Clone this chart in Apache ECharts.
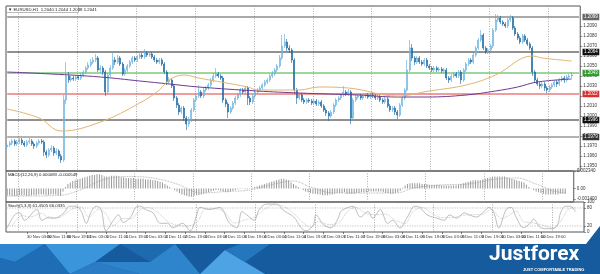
<!DOCTYPE html>
<html><head><meta charset="utf-8">
<script src="https://cdn.jsdelivr.net/npm/echarts@6/dist/echarts.min.js"></script>
<style>html,body{margin:0;padding:0;background:#fff}#c{width:600px;height:274px}</style>
</head><body><div id="c"></div>
<script>
// ---------- DATA (EURUSD, H1) ----------
const N_SLOTS = 234;
const openP = [1.1969,1.1971,1.1973,1.1975,1.1972,1.1974,1.1976,1.1973,1.1971,1.1974,
1.1975,1.1972,1.1970,1.1973,1.1975,1.1974,1.1964,1.1961,1.1966,1.1968,
1.1963,1.1965,1.1960,1.1956,1.2016,1.2040,1.2036,1.2038,1.2037,1.2039,
1.2038,1.2041,1.2044,1.2048,1.2051,1.2054,1.2056,1.2058,1.2046,1.2048,
1.2044,1.2024,1.2041,1.2048,1.2056,1.2054,1.2058,1.2052,1.2042,1.2046,
1.2050,1.2054,1.2058,1.2056,1.2059,1.2061,1.2059,1.2063,1.2061,1.2062,
1.2059,1.2056,1.2054,1.2056,1.2052,1.2044,1.2034,1.2036,1.2030,1.2018,
1.2011,1.2004,1.2008,1.1998,1.1992,1.1996,1.2006,1.2016,1.2020,1.2024,
1.2020,1.2026,1.2028,1.2031,1.2036,1.2040,1.2042,1.2040,1.2038,1.2016,
1.2012,1.2004,1.2008,1.2013,1.2018,1.2021,1.2026,1.2024,1.2028,1.2018,
1.2014,1.2020,1.2024,1.2026,1.2028,1.2031,1.2034,1.2036,1.2040,1.2042,
1.2046,1.2050,1.2058,1.2070,1.2074,1.2068,1.2066,1.2056,1.2026,1.2018,
1.2021,1.2016,1.2014,1.2016,1.2015,1.2013,1.2015,1.2012,1.2014,1.2010,
1.2006,1.2003,1.2000,1.2004,1.2011,1.2016,1.2018,1.2021,1.2024,1.2022,
1.2024,1.1998,1.2016,1.2019,1.2020,1.2018,1.2020,1.2021,1.2019,1.2021,
1.2020,1.2018,1.2019,1.2016,1.2014,1.2017,1.2010,1.2006,1.2008,1.2004,
1.2001,1.2011,1.2018,1.2026,1.2046,1.2068,1.2058,1.2054,1.2058,1.2054,
1.2052,1.2056,1.2050,1.2048,1.2046,1.2048,1.2046,1.2047,1.2045,1.2046,
1.2038,1.2036,1.2040,1.2042,1.2040,1.2044,1.2036,1.2046,1.2052,1.2056,
1.2054,1.2061,1.2068,1.2076,1.2081,1.2068,1.2064,1.2066,1.2070,1.2086,
1.2096,1.2098,1.2094,1.2092,1.2090,1.2096,1.2098,1.2088,1.2082,1.2078,
1.2074,1.2080,1.2076,1.2072,1.2068,1.2044,1.2036,1.2032,1.2030,1.2032,
1.2028,1.2026,1.2029,1.2031,1.2034,1.2032,1.2036,1.2038,1.2036,1.2039,1.2040];
const closeP = [1.1971,1.1973,1.1975,1.1972,1.1974,1.1976,1.1973,1.1971,1.1974,1.1975,
1.1972,1.1970,1.1973,1.1975,1.1974,1.1964,1.1961,1.1966,1.1968,1.1963,
1.1965,1.1960,1.1956,1.2016,1.2040,1.2036,1.2038,1.2037,1.2039,1.2038,
1.2041,1.2044,1.2048,1.2051,1.2054,1.2056,1.2058,1.2046,1.2048,1.2044,
1.2024,1.2041,1.2048,1.2056,1.2054,1.2058,1.2052,1.2042,1.2046,1.2050,
1.2054,1.2058,1.2056,1.2059,1.2061,1.2059,1.2063,1.2061,1.2062,1.2059,
1.2056,1.2054,1.2056,1.2052,1.2044,1.2034,1.2036,1.2030,1.2018,1.2011,
1.2004,1.2008,1.1998,1.1992,1.1996,1.2006,1.2016,1.2020,1.2024,1.2020,
1.2026,1.2028,1.2031,1.2036,1.2040,1.2042,1.2040,1.2038,1.2016,1.2012,
1.2004,1.2008,1.2013,1.2018,1.2021,1.2026,1.2024,1.2028,1.2018,1.2014,
1.2020,1.2024,1.2026,1.2028,1.2031,1.2034,1.2036,1.2040,1.2042,1.2046,
1.2050,1.2058,1.2070,1.2074,1.2068,1.2066,1.2056,1.2026,1.2018,1.2021,
1.2016,1.2014,1.2016,1.2015,1.2013,1.2015,1.2012,1.2014,1.2010,1.2006,
1.2003,1.2000,1.2004,1.2011,1.2016,1.2018,1.2021,1.2024,1.2022,1.2024,
1.1998,1.2016,1.2019,1.2020,1.2018,1.2020,1.2021,1.2019,1.2021,1.2020,
1.2018,1.2019,1.2016,1.2014,1.2017,1.2010,1.2006,1.2008,1.2004,1.2001,
1.2011,1.2018,1.2026,1.2046,1.2068,1.2058,1.2054,1.2058,1.2054,1.2052,
1.2056,1.2050,1.2048,1.2046,1.2048,1.2046,1.2047,1.2045,1.2046,1.2038,
1.2036,1.2040,1.2042,1.2040,1.2044,1.2036,1.2046,1.2052,1.2056,1.2054,
1.2061,1.2068,1.2076,1.2081,1.2068,1.2064,1.2066,1.2070,1.2086,1.2096,
1.2098,1.2094,1.2092,1.2090,1.2096,1.2098,1.2088,1.2082,1.2078,1.2074,
1.2080,1.2076,1.2072,1.2068,1.2044,1.2036,1.2032,1.2030,1.2032,1.2028,
1.2026,1.2029,1.2031,1.2034,1.2032,1.2036,1.2038,1.2036,1.2039,1.2040,1.2041];
const lowP = [1.1967,1.1969,1.1971,1.1970,1.1970,1.1972,1.1971,1.1969,1.1969,1.1972,
1.1970,1.1967,1.1968,1.1971,1.1972,1.1960,1.1958,1.1959,1.1964,1.1960,
1.1961,1.1957,1.1953,1.1954,1.2012,1.2033,1.2034,1.2035,1.2035,1.2036,
1.2036,1.2039,1.2042,1.2046,1.2049,1.2052,1.2054,1.2044,1.2043,1.2041,
1.2020,1.2022,1.2039,1.2046,1.2051,1.2052,1.2050,1.2040,1.2040,1.2044,
1.2048,1.2052,1.2054,1.2054,1.2057,1.2057,1.2057,1.2059,1.2059,1.2057,
1.2054,1.2052,1.2052,1.2050,1.2042,1.2031,1.2032,1.2028,1.2015,1.2008,
1.2001,1.2002,1.1995,1.1986,1.1989,1.1994,1.2004,1.2014,1.2018,1.2018,
1.2018,1.2024,1.2026,1.2029,1.2034,1.2038,1.2038,1.2036,1.2013,1.2009,
1.1998,1.2002,1.2006,1.2011,1.2016,1.2019,1.2022,1.2022,1.2011,1.2011,
1.2012,1.2018,1.2022,1.2024,1.2026,1.2029,1.2032,1.2034,1.2038,1.2040,
1.2044,1.2048,1.2056,1.2068,1.2065,1.2063,1.2053,1.2022,1.2012,1.2016,
1.2014,1.2012,1.2012,1.2013,1.2011,1.2011,1.2010,1.2010,1.2008,1.2004,
1.2000,1.1995,1.1998,1.2002,1.2009,1.2014,1.2016,1.2019,1.2020,1.2020,
1.1992,1.1996,1.2014,1.2017,1.2016,1.2016,1.2018,1.2017,1.2017,1.2018,
1.2016,1.2016,1.2014,1.2012,1.2012,1.2008,1.2004,1.2004,1.2001,1.1997,
1.1999,1.2009,1.2016,1.2024,1.2044,1.2055,1.2051,1.2052,1.2052,1.2050,
1.2050,1.2048,1.2046,1.2044,1.2044,1.2044,1.2044,1.2043,1.2043,1.2036,
1.2033,1.2034,1.2038,1.2038,1.2038,1.2032,1.2034,1.2044,1.2050,1.2052,
1.2052,1.2059,1.2066,1.2074,1.2066,1.2062,1.2062,1.2064,1.2068,1.2084,
1.2094,1.2092,1.2090,1.2088,1.2088,1.2094,1.2086,1.2080,1.2076,1.2072,
1.2072,1.2074,1.2070,1.2066,1.2040,1.2033,1.2030,1.2027,1.2028,1.2025,
1.2023,1.2024,1.2027,1.2029,1.2029,1.2030,1.2034,1.2033,1.2034,1.2037,1.2038];
const highP = [1.1973,1.1975,1.1977,1.1977,1.1976,1.1978,1.1978,1.1975,1.1976,1.1978,
1.1977,1.1974,1.1975,1.1977,1.1977,1.1976,1.1966,1.1968,1.1971,1.1970,
1.1968,1.1967,1.1962,1.2021,1.2054,1.2044,1.2041,1.2040,1.2041,1.2041,
1.2043,1.2046,1.2050,1.2054,1.2057,1.2059,1.2062,1.2060,1.2051,1.2050,
1.2046,1.2043,1.2051,1.2064,1.2059,1.2061,1.2060,1.2054,1.2048,1.2052,
1.2056,1.2060,1.2060,1.2061,1.2063,1.2063,1.2067,1.2065,1.2064,1.2064,
1.2061,1.2058,1.2058,1.2058,1.2054,1.2046,1.2039,1.2038,1.2032,1.2020,
1.2013,1.2010,1.2010,1.2000,1.1999,1.2008,1.2018,1.2022,1.2031,1.2026,
1.2028,1.2030,1.2033,1.2038,1.2043,1.2048,1.2044,1.2042,1.2040,1.2018,
1.2014,1.2010,1.2015,1.2020,1.2023,1.2028,1.2028,1.2030,1.2030,1.2020,
1.2022,1.2026,1.2028,1.2030,1.2033,1.2036,1.2038,1.2042,1.2045,1.2048,
1.2052,1.2061,1.2081,1.2082,1.2077,1.2071,1.2068,1.2058,1.2028,1.2023,
1.2023,1.2018,1.2018,1.2018,1.2017,1.2017,1.2017,1.2016,1.2016,1.2012,
1.2008,1.2005,1.2006,1.2013,1.2018,1.2020,1.2023,1.2030,1.2026,1.2027,
1.2026,1.2018,1.2021,1.2022,1.2022,1.2022,1.2023,1.2023,1.2023,1.2023,
1.2022,1.2021,1.2021,1.2018,1.2019,1.2019,1.2012,1.2010,1.2010,1.2006,
1.2013,1.2020,1.2028,1.2056,1.2076,1.2072,1.2060,1.2060,1.2060,1.2056,
1.2058,1.2058,1.2052,1.2050,1.2050,1.2050,1.2049,1.2049,1.2048,1.2048,
1.2040,1.2042,1.2044,1.2044,1.2046,1.2046,1.2048,1.2054,1.2058,1.2058,
1.2063,1.2070,1.2078,1.2086,1.2083,1.2070,1.2068,1.2072,1.2088,1.2102,
1.2101,1.2100,1.2096,1.2094,1.2098,1.2101,1.2100,1.2090,1.2084,1.2080,
1.2082,1.2082,1.2078,1.2074,1.2070,1.2046,1.2038,1.2034,1.2034,1.2034,
1.2030,1.2031,1.2033,1.2036,1.2036,1.2038,1.2040,1.2040,1.2041,1.2042,1.2044];

// moving averages (sparse readings: bar index -> value)
const maSlowIdx = [0,18,38,54,66,78,102,119,143,159,171,187,199,208,216,230];
const maSlowVal = [1.2044,1.2042,1.2039,1.2035,1.2032,1.2029,1.2025,1.2023,1.2021,1.2019,1.2019,1.2021,1.2025,1.2029,1.2034,1.2037];
const maFastIdx = [0,13,22,38,54,62,66,72,78,98,102,119,127,139,159,172,187,199,214,218,230];
const maFastVal = [1.2007,1.1998,1.1985,1.1994,1.2013,1.2026,1.2036,1.2041,1.2038,1.2029,1.2026,1.2026,1.2029,1.2028,1.2020,1.2025,1.2031,1.2041,1.2060,1.2058,1.2055];

// horizontal levels
const levelPrices = [1.2099, 1.2064, 1.2043, 1.2022, 1.1996, 1.1979];
const priceTicks = [1.2090,1.2080,1.2070,1.2060,1.2050,1.2040,1.2030,1.2020,1.2010,1.2000,1.1990,1.1980,1.1970,1.1960,1.1950];

// MACD(12,26,9)
const macdHist = [-0.0009,-0.0009,-0.0010,-0.0010,-0.0010,-0.0009,-0.0009,-0.0009,-0.0010,-0.0010,
-0.0009,-0.0009,-0.0009,-0.0008,-0.0008,-0.0008,-0.0009,-0.0009,-0.0008,-0.0008,
-0.0008,-0.0009,-0.0010,-0.0004,0.0002,
0.0006,0.0008,0.0010,0.0011,0.0012,0.0013,0.0014,0.0015,0.0016,0.0017,0.0018,0.0018,0.0019,
0.0019,0.0018,0.0016,0.0016,0.0016,0.0017,0.0017,0.0017,0.0016,0.0015,0.0015,0.0014,0.0014,0.0014,0.0014,
0.0013,0.0013,0.0013,0.0013,0.0012,0.0012,0.0012,0.0011,0.0011,
0.0010,0.0009,0.0008,0.0006,0.0004,0.0002,0.00005,-0.0002,-0.0004,-0.0006,-0.0008,-0.0009,-0.0010,-0.0011,-0.0011,-0.0010,-0.0009,
-0.0009,-0.0008,-0.0007,-0.0006,-0.0005,-0.0004,-0.0003,-0.0002,-0.0002,-0.0003,-0.0004,-0.0005,-0.0005,-0.0004,-0.0003,-0.0002,-0.0001,-0.00005,0.00005,-0.0001,-0.0001,0.00005,
0.0001,0.0002,0.0003,0.0004,0.0005,0.0006,0.0007,0.0008,0.0009,0.0010,0.0011,0.0012,0.0013,0.0013,0.0012,0.0011,0.0008,0.0006,0.0004,0.0002,0.00005,
-0.0002,-0.0004,-0.0005,-0.0006,-0.0007,-0.0007,-0.0008,-0.0008,-0.0009,-0.0009,-0.0009,-0.0008,-0.0008,-0.0007,-0.0006,-0.0006,-0.0006,-0.0005,-0.0007,-0.0007,
-0.0007,-0.0007,-0.0006,-0.0006,-0.0005,-0.0005,-0.0005,-0.0004,-0.0004,-0.0004,-0.0004,-0.0004,-0.0004,-0.0005,-0.0006,-0.0006,-0.0007,-0.0007,-0.0006,-0.0005,
-0.0003,0.0001,0.0004,0.0006,0.0007,0.0007,0.0007,0.0007,0.0007,0.0006,0.0006,0.0006,0.0005,0.0005,0.0005,
0.0005,0.0005,0.0004,0.0004,0.0004,0.0004,0.0004,0.0004,0.0004,0.0005,0.0006,0.0007,0.0008,0.0009,0.0010,
0.0011,0.0011,0.0011,0.0011,0.0012,0.0013,0.0014,0.0015,0.0016,0.0016,0.0016,0.0016,0.0016,0.0016,0.0015,
0.0014,0.0013,0.0012,0.0011,0.0010,0.0009,0.0008,0.0005,0.0002,0.00005,-0.0002,-0.0004,-0.0005,-0.0006,-0.0007,
-0.0008,-0.0008,-0.0008,-0.0008,-0.0008,-0.0008,-0.0007,-0.0007,-0.0007];
const macdSigIdx = [0,10,22,30,40,50,60,70,80,90,100,110,118,125,135,150,160,168,180,190,200,210,218,225,230];
const macdSigVal = [-0.0010,-0.0010,-0.0009,-0.0002,0.0012,0.0016,0.0014,0.0006,-0.0006,-0.0004,-0.0002,0.0006,0.0010,0.0002,-0.0006,-0.0006,-0.0006,0.0001,0.0005,0.0006,0.0012,0.0014,0.0006,-0.0003,-0.0006];
const macdTicks = [0.00234, 0, -0.0014];

// Stochastic(5,3,3)
const stochMainIdx = [0,3,5,7,12,14,17,19,23,25,28,30,32,34,36,38,40,43,45,47,50,52,54,56,59,62,65,67,71,74,77,78,82,86,90,93,95,97,100,102,105,109,112,116,119,121,124,125,128,131,134,135,138,140,143,146,148,151,154,156,159,162,165,167,170,174,177,179,182,185,187,190,193,195,197,199,202,204,206,209,212,213,216,219,221,223,224,226,228,230];
const stochMainVal = [14,57,64,39,75,39,50,46,64,86,86,68,29,68,86,75,4,39,57,32,50,82,86,75,64,29,29,14,29,4,64,82,75,82,29,14,68,57,39,75,93,93,71,50,14,4,25,57,25,14,46,68,82,86,50,68,46,75,29,39,14,50,86,82,57,46,39,57,46,64,57,50,68,82,64,14,75,82,50,14,32,43,14,11,11,29,64,86,86,68];
const stochSigIdx = [2,6,9,14,17,21,26,30,33,37,40,43,47,50,54,57,61,65,69,73,77,80,84,88,92,96,100,104,108,112,116,120,123,126,130,134,138,141,145,149,153,157,161,164,168,172,176,180,184,188,192,196,200,203,206,209,213,217,221,224,227,230];
const stochSigVal = [20,55,50,62,45,48,75,84,50,75,60,22,45,45,75,82,65,35,22,20,35,75,78,65,30,40,50,75,90,85,62,30,15,35,25,30,70,82,62,58,60,40,28,65,82,62,48,48,55,58,58,75,45,55,70,35,30,22,13,35,75,82];
const stochTicks = [100, 80, 20, 0];
const stochLevels = [80, 20];

// time axis
const dayStartIndex = [5,29,53,77,101,125,149,173,197,221];
const dateTickIndex = [0,8,16,24,32,40,48,56,64,72,80,88,96,104,112,120,128,136,144,152,160,168,176,184,192,200,208,216,224];
const dateTickText = ['27 Nov 2020','30 Nov 03:00','30 Nov 11:00','30 Nov 19:00','1 Dec 03:00','1 Dec 11:00','1 Dec 19:00','2 Dec 03:00','2 Dec 11:00','2 Dec 19:00','3 Dec 03:00','3 Dec 11:00','3 Dec 19:00','4 Dec 03:00','4 Dec 11:00','4 Dec 19:00','7 Dec 03:00','7 Dec 11:00','7 Dec 19:00','8 Dec 03:00','8 Dec 11:00','8 Dec 19:00','9 Dec 03:00','9 Dec 11:00','9 Dec 19:00','10 Dec 03:00','10 Dec 11:00','10 Dec 19:00','11 Dec 03:00'];

// ---------- CHART ----------
const FONT = '"Liberation Sans", Arial, sans-serif';
const slots = Array.from({length: N_SLOTS}, (_, i) => String(i));
const labelMap = {};
dateTickIndex.forEach((ix, k) => { labelMap[ix] = dateTickText[k]; });
const isLabel = (i) => labelMap[i] !== undefined;
const isDay = (i) => dayStartIndex.indexOf(i) >= 0;

function xAxisFor(g, show) {
  return {
    type: 'category', gridIndex: g, data: slots, boundaryGap: true,
    axisLine: {show: false},
    axisTick: show ? {show: true, interval: isLabel, length: 2, alignWithLabel: true, lineStyle: {color: '#333', width: 0.6}} : {show: false},
    axisLabel: show ? {show: true, interval: isLabel, formatter: (v, i) => labelMap[i] || '', fontSize: 4.2, color: '#333', align: 'left', margin: 2.5, fontFamily: FONT} : {show: false},
    splitLine: {show: true, interval: isDay, lineStyle: {color: '#8a8a8a', type: [1, 1.5], width: 0.7}}
  };
}
const lab = {fontSize: 4.5, color: '#333', fontFamily: FONT};

const levelStyles = [
  {c: '#8c8c8c', w: 1.6, bg: '#666'},
  {c: '#222', w: 1, bg: '#111'},
  {c: '#3dae3d', w: 1, bg: '#2f9e2f'},
  {c: '#e23a3a', w: 1, bg: '#d92f2f'},
  {c: '#222', w: 1, bg: '#111'},
  {c: '#666', w: 1, bg: '#333'}
];

const candleData = closeP.map((c, i) => [openP[i], c, lowP[i], highP[i]]);
const pairs = (ix, vals) => ix.map((x, k) => [x, vals[k]]);

// each level drawn as a flat line spanning the whole time axis, with its price box at the right end
const levelSeries = levelPrices.map((v, k) => ({
  type: 'line', xAxisIndex: 0, yAxisIndex: 0, data: [[0, v], [N_SLOTS - 1, v]], z: 2, silent: true,
  showSymbol: false, symbol: 'none',
  lineStyle: {color: levelStyles[k].c, width: levelStyles[k].w},
  endLabel: {show: true, formatter: v.toFixed(4), backgroundColor: levelStyles[k].bg, color: '#fff',
             fontSize: 4.5, fontFamily: FONT, padding: [1, 1.5, 0.5, 1.5], distance: 3.5}
}));

const option = {
  animation: false,
  backgroundColor: '#fff',
  grid: [
    {left: 6, top: 6, width: 578, height: 165, show: true, borderColor: '#555', borderWidth: 1},
    {left: 6, top: 171, width: 578, height: 31, show: true, borderColor: '#555', borderWidth: 1},
    {left: 6, top: 202, width: 578, height: 30, show: true, borderColor: '#555', borderWidth: 1}
  ],
  xAxis: [xAxisFor(0, false), xAxisFor(1, false), xAxisFor(2, true)],
  yAxis: [
    {type: 'value', gridIndex: 0, position: 'right', min: 1.1945, max: 1.2110, axisLine: {show: false},
     axisTick: {show: true, customValues: priceTicks, length: 2, lineStyle: {color: '#444', width: 0.6}},
     axisLabel: Object.assign({customValues: priceTicks, formatter: v => v.toFixed(4), margin: 3}, lab), splitLine: {show: false}},
    {type: 'value', gridIndex: 1, position: 'right', min: -0.0018, max: 0.00234, axisLine: {show: false},
     axisTick: {show: true, customValues: macdTicks, length: 2, lineStyle: {color: '#444', width: 0.6}},
     axisLabel: Object.assign({customValues: macdTicks, formatter: v => v === 0 ? '0.00' : v.toFixed(6), margin: 3}, lab), splitLine: {show: false}},
    {type: 'value', gridIndex: 2, position: 'right', min: 0, max: 100, axisLine: {show: false},
     axisTick: {show: true, customValues: stochTicks, length: 2, lineStyle: {color: '#444', width: 0.6}},
     axisLabel: Object.assign({customValues: stochTicks, margin: 3}, lab), splitLine: {show: false}}
  ],
  series: levelSeries.concat([
    {type: 'candlestick', xAxisIndex: 0, yAxisIndex: 0, data: candleData, barWidth: 1.5, z: 3,
     itemStyle: {color: '#b6dbf3', color0: '#1f74b1', borderColor: '#5ba8dc', borderColor0: '#1a6299', borderWidth: 0.6}},
    {type: 'line', xAxisIndex: 0, yAxisIndex: 0, data: pairs(maSlowIdx, maSlowVal), smooth: 0.4, showSymbol: false,
     lineStyle: {color: '#6e3a8e', width: 1}, z: 4},
    {type: 'line', xAxisIndex: 0, yAxisIndex: 0, data: pairs(maFastIdx, maFastVal), smooth: 0.4, showSymbol: false,
     lineStyle: {color: '#e2b56f', width: 1}, z: 4},
    {type: 'bar', xAxisIndex: 1, yAxisIndex: 1, data: macdHist, barWidth: 0.6, itemStyle: {color: '#9a9a9a'}},
    {type: 'line', xAxisIndex: 1, yAxisIndex: 1, data: pairs(macdSigIdx, macdSigVal), smooth: 0.4, showSymbol: false,
     lineStyle: {color: '#a0a0a0', width: 0.8, type: 'dotted'}},
    {type: 'line', xAxisIndex: 2, yAxisIndex: 2, data: pairs(stochMainIdx, stochMainVal), smooth: 0.35, showSymbol: false,
     lineStyle: {color: '#a3a3a3', width: 0.7}},
    {type: 'line', xAxisIndex: 2, yAxisIndex: 2, data: pairs(stochSigIdx, stochSigVal), smooth: 0.35, showSymbol: false,
     lineStyle: {color: '#b0b0b0', width: 0.7, type: 'dotted'}}
  ], stochLevels.map(v => ({
    type: 'line', xAxisIndex: 2, yAxisIndex: 2, data: [[0, v], [N_SLOTS - 1, v]], showSymbol: false, symbol: 'none', silent: true,
    lineStyle: {color: '#9a9a9a', width: 0.7, type: [1, 1.5]}
  }))),
  graphic: [
    {type: 'rect', shape: {x: 6.5, y: 6.5, width: 72, height: 6}, style: {fill: '#fff', stroke: '#888', lineWidth: 0.6}, z: 50},
    {type: 'text', x: 8, y: 9.6, style: {text: '\u25BC EURUSD,H1  1.2040 1.2044 1.2038 1.2041', fill: '#222', font: '4.3px ' + FONT, verticalAlign: 'middle'}, z: 51},
    {type: 'text', x: 8, y: 175, style: {text: 'MACD(12,26,9) 0.000083 -0.000549', fill: '#222', font: '4.3px ' + FONT, verticalAlign: 'middle'}, z: 51},
    {type: 'text', x: 8, y: 205.5, style: {text: 'Stoch(5,3,3) 61.4505 66.0335', fill: '#222', font: '4.3px ' + FONT, verticalAlign: 'middle'}, z: 51},
    // banner
    {type: 'polygon', shape: {points: [[0,244],[586,244],[600,226],[600,274],[0,274]]}, style: {fill: '#155b9d'}, z: 0},
    {type: 'polygon', shape: {points: [[0,244],[45,244],[15,262],[0,258]]}, style: {fill: '#2d86cf'}, z: 1},
    {type: 'polygon', shape: {points: [[15,262],[45,244],[70,274],[0,274],[0,258]]}, style: {fill: '#1f6db5'}, z: 1},
    {type: 'polygon', shape: {points: [[45,244],[120,244],[95,262],[70,274]]}, style: {fill: '#3a95da'}, z: 1},
    {type: 'polygon', shape: {points: [[70,274],[95,262],[140,274]]}, style: {fill: '#2a7cc4'}, z: 1},
    {type: 'polygon', shape: {points: [[120,244],[175,244],[150,262]]}, style: {fill: '#1e6aae'}, z: 1},
    {type: 'polygon', shape: {points: [[95,262],[150,262],[175,244],[200,274],[140,274]]}, style: {fill: '#2f85cc'}, z: 1},
    {type: 'polygon', shape: {points: [[200,274],[225,250],[245,262],[265,274]]}, style: {fill: '#4da3e3'}, z: 1},
    {type: 'polygon', shape: {points: [[225,250],[240,244],[270,244],[245,262]]}, style: {fill: '#2577bd'}, z: 1},
    {type: 'text', x: 489, y: 255, style: {text: 'Justforex', fill: '#fff', font: 'bold 21px Roboto, ' + FONT, verticalAlign: 'middle'}, z: 5},
    {type: 'text', x: 523, y: 269.5, style: {text: 'JUST COMFORTABLE TRADING', fill: '#fff', font: 'bold 4px ' + FONT, verticalAlign: 'middle'}, z: 5}
  ]
};
const chart = echarts.init(document.getElementById('c'));
chart.setOption(option);
</script></body></html>
